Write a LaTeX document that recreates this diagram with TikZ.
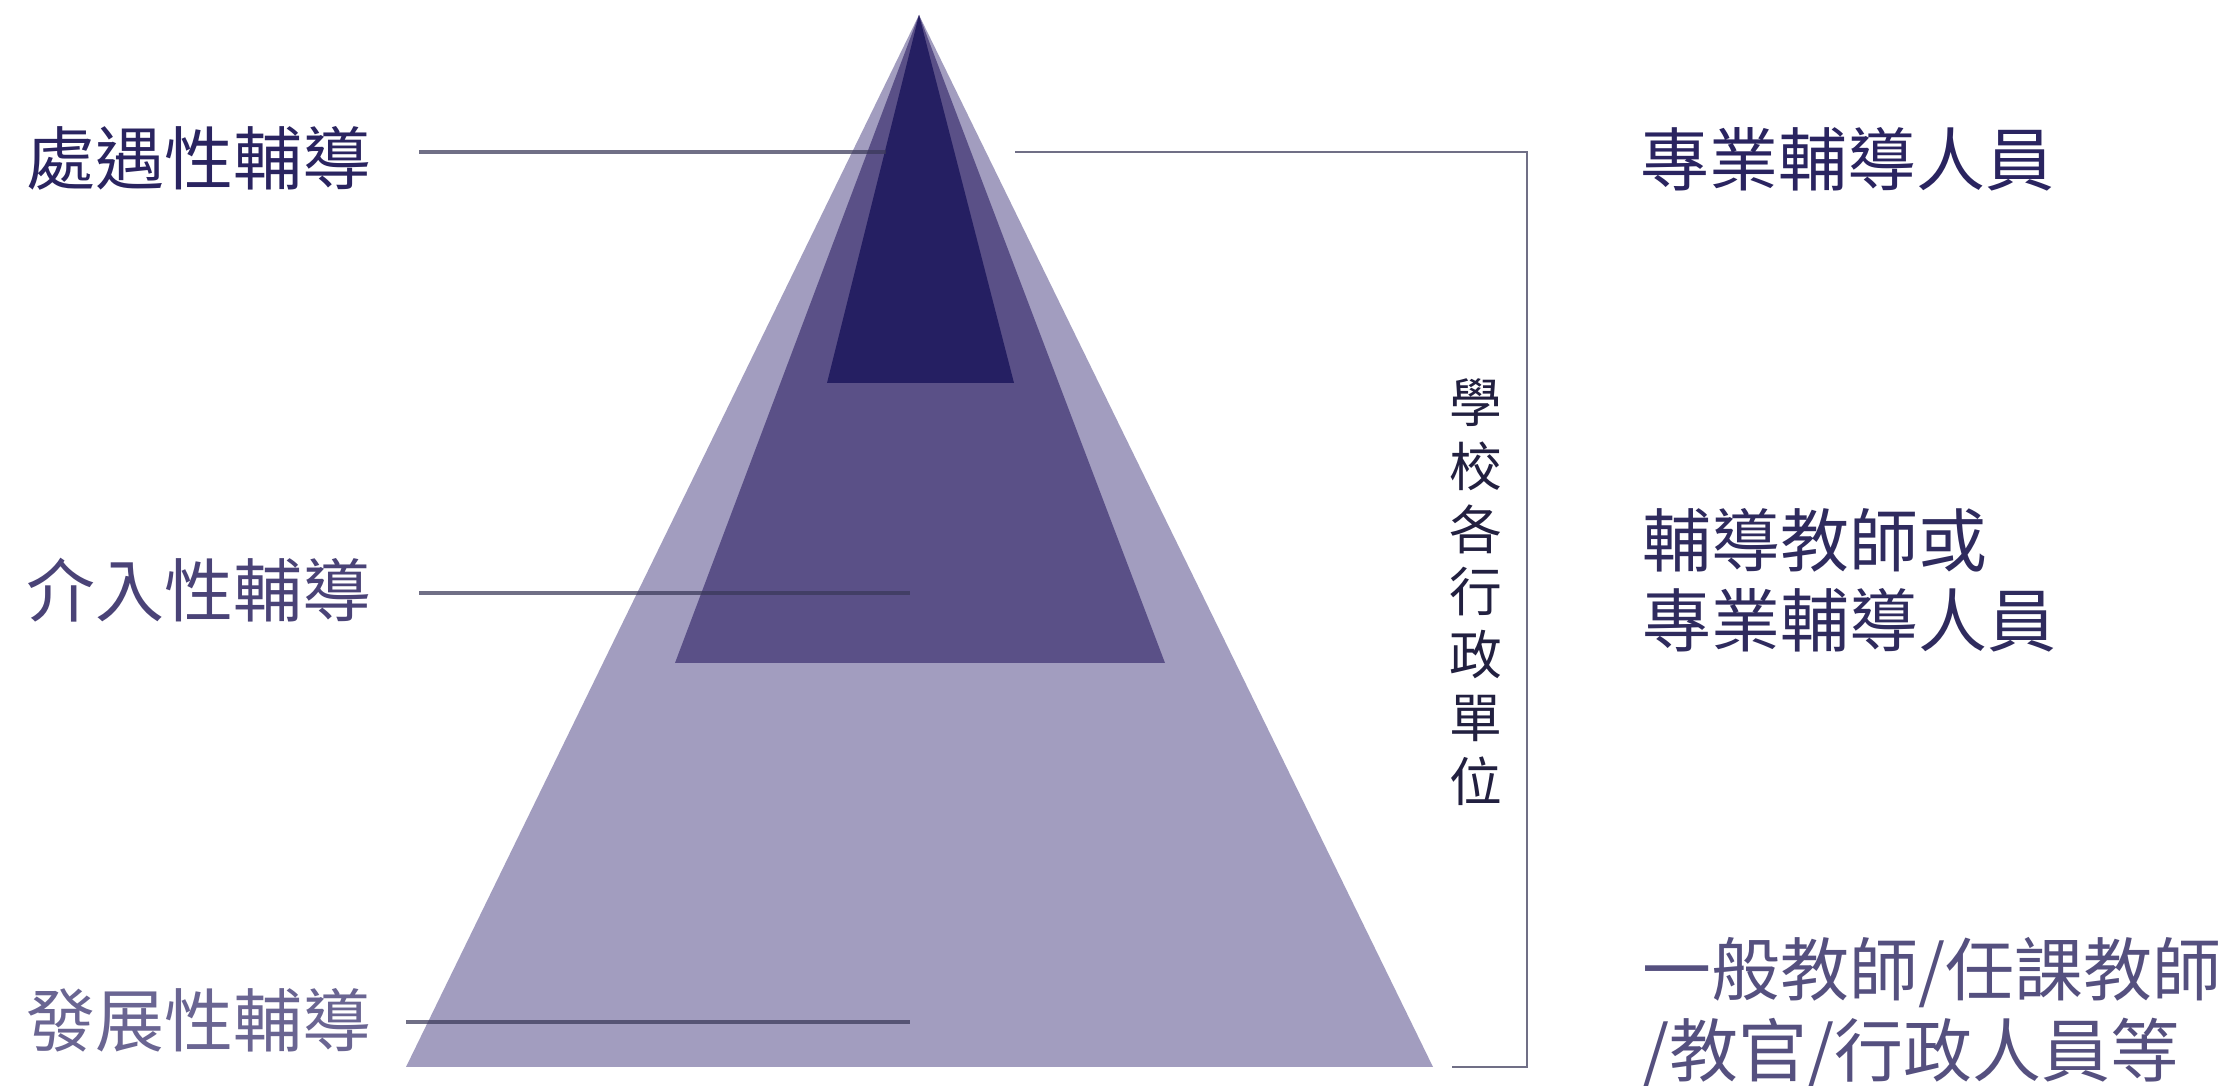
\documentclass[tikz,border=0pt]{standalone}
\usepackage{fontspec}
\setmainfont{Noto Sans CJK TC}
\definecolor{bigc}{HTML}{A29DBF}
\definecolor{midc}{HTML}{5A5087}
\definecolor{darkc}{HTML}{251F62}
\definecolor{linec}{HTML}{3A3858}
\definecolor{ca}{HTML}{2A2460}
\definecolor{cb}{HTML}{4A4377}
\definecolor{cc}{HTML}{6A6592}
\definecolor{cd}{HTML}{2F2B5E}
\definecolor{ce}{HTML}{55507F}
\definecolor{cv}{HTML}{222040}
\begin{document}
\begin{tikzpicture}[x=0.01cm,y=-0.01cm]
\tikzset{
  lbl/.style={anchor=west, inner sep=0pt, font=\fontsize{19.6pt}{23pt}\selectfont},
  vch/.style={inner sep=0pt, font=\fontsize{15pt}{18pt}\selectfont, text=cv},
  conn/.style={draw=linec, draw opacity=0.72, line width=1pt},
  brk/.style={draw=linec, draw opacity=0.72, line width=0.8pt},
}
\useasboundingbox (0,0) rectangle (2236,1086);
\fill[white] (0,0) rectangle (2236,1086);
% pyramid
\fill[bigc] (919,15) -- (1433,1067) -- (406,1067) -- cycle;
\fill[midc] (919,15) -- (1165,663) -- (675,663) -- cycle;
\fill[darkc] (919,15) -- (1014,383) -- (827,383) -- cycle;
% left labels
\node[lbl, text=ca] (l1) at (26,158) {處遇性輔導};
\node[lbl, text=cb] (l2) at (26,590) {介入性輔導};
\node[lbl, text=cc] (l3) at (26,1020) {發展性輔導};
% right labels
\node[lbl, text=ca] (r1) at (1640,159) {專業輔導人員};
\node[lbl, text=cd] (r2a) at (1642,540) {輔導教師或};
\node[lbl, text=cd] (r2b) at (1642,620) {專業輔導人員};
\node[lbl, text=ce] (r3a) at (1642,973) {一般教師/任課教師};
\node[lbl, text=ce] (r3b) at (1642,1053) {/教官/行政人員等};
% vertical label
\foreach \c [count=\i] in {學,校,各,行,政,單,位}{
  \node[vch] (v\i) at (1476,{340+63*\i}) {\c};
}
% connectors
\coordinate (a1) at (419,152); \coordinate (a2) at (886,152);
\coordinate (b1) at (419,593); \coordinate (b2) at (910,593);
\coordinate (c1) at (406,1022); \coordinate (c2) at (910,1022);
\draw[conn] (a1) -- (a2);
\draw[conn] (b1) -- (b2);
\draw[conn] (c1) -- (c2);
\coordinate (k1) at (1015,152); \coordinate (k2) at (1527,152);
\coordinate (k3) at (1527,1067); \coordinate (k4) at (1452,1067);
\draw[brk] (k1) -- (k2) -- (k3) -- (k4);
\end{tikzpicture}
\end{document}
